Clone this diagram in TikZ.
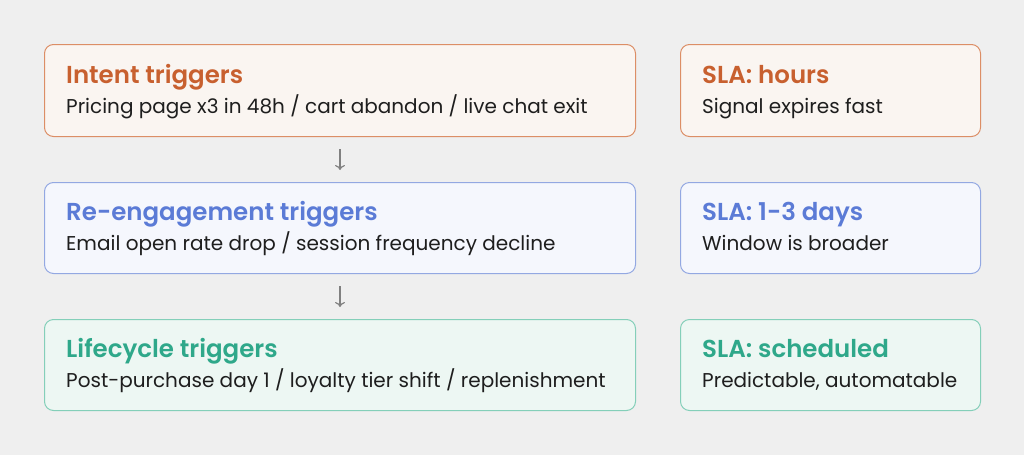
\documentclass[tikz,border=0pt]{standalone}
\usetikzlibrary{arrows.meta}
\usepackage{fontspec}
\setmainfont{Poppins}[BoldFont={Poppins SemiBold}]
\definecolor{bg}{HTML}{EFEFEF}
\definecolor{oT}{HTML}{C8602F}\definecolor{oB}{HTML}{DC8E66}\definecolor{oF}{HTML}{FAF5F1}
\definecolor{bT}{HTML}{5B7BD6}\definecolor{bB}{HTML}{93A8E2}\definecolor{bF}{HTML}{F5F7FD}
\definecolor{gT}{HTML}{2FA88A}\definecolor{gB}{HTML}{84CFB9}\definecolor{gF}{HTML}{EDF7F3}
\definecolor{txt}{HTML}{1E1E1E}
\begin{document}
\begin{tikzpicture}[x=1pt,y=-1pt,
  box/.style={draw,line width=1pt,rounded corners=9pt,anchor=north west,inner sep=0},
  ttl/.style={anchor=base west,font=\fontsize{24.5}{28}\selectfont\bfseries,inner sep=0},
  bod/.style={anchor=base west,font=\fontsize{20}{24}\selectfont,text=txt,inner sep=0},
  arr/.style={draw=gray,line width=1.2pt,-{To[length=5pt,width=10pt]},shorten <=12pt,shorten >=12pt}]
\fill[bg] (0,0) rectangle (1024,455);
\useasboundingbox (0,0) rectangle (1024,455);
\node[box,draw=oB,fill=oF,minimum width=591pt,minimum height=92pt] (L1) at (44,44) {};
\node[box,draw=bB,fill=bF,minimum width=591pt,minimum height=91pt] (L2) at (44,182) {};
\node[box,draw=gB,fill=gF,minimum width=591pt,minimum height=91pt] (L3) at (44,319) {};
\node[box,draw=oB,fill=oF,minimum width=300pt,minimum height=92pt] (R1) at (680,44) {};
\node[box,draw=bB,fill=bF,minimum width=300pt,minimum height=91pt] (R2) at (680,182) {};
\node[box,draw=gB,fill=gF,minimum width=300pt,minimum height=91pt] (R3) at (680,319) {};
\node[ttl,text=oT] (t1) at (66,83) {Intent triggers};
\node[bod] (d1) at (66,113) {Pricing page x3 in 48h / cart abandon / live chat exit};
\node[ttl,text=bT] (t2) at (66,220) {Re-engagement triggers};
\node[bod] (d2) at (66,250) {Email open rate drop / session frequency decline};
\node[ttl,text=gT] (t3) at (66,357) {Lifecycle triggers};
\node[bod] (d3) at (66,387) {Post-purchase day 1 / loyalty tier shift / replenishment};
\node[ttl,text=oT] (s1) at (702,83) {SLA: hours};
\node[bod] (e1) at (702,113) {Signal expires fast};
\node[ttl,text=bT] (s2) at (702,220) {SLA: 1-3 days};
\node[bod] (e2) at (702,250) {Window is broader};
\node[ttl,text=gT] (s3) at (702,357) {SLA: scheduled};
\node[bod] (e3) at (702,387) {Predictable, automatable};
\draw[arr] (L1.south) -- (L2.north);
\draw[arr] (L2.south) -- (L3.north);
\end{tikzpicture}
\end{document}
